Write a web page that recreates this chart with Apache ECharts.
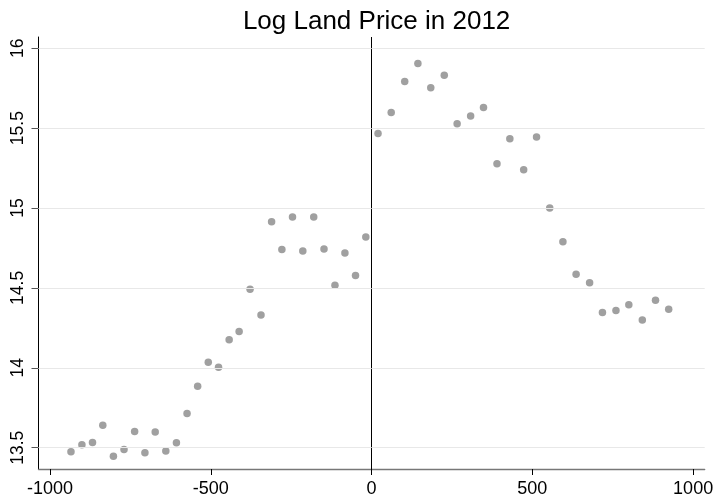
<!DOCTYPE html>
<html>
<head>
<meta charset="utf-8">
<script src="https://cdn.jsdelivr.net/npm/echarts@6/dist/echarts.min.js"></script>
<style>
  html, body { margin: 0; padding: 0; background: #fff; }
  #main { width: 717px; height: 499px; }
</style>
</head>
<body>
<div id="main"></div>
<script>
// distance to the border (bins), and mean log land price in each bin
const distLeft = [-935, -901, -868, -836, -803, -770, -737, -705, -673, -640, -607, -574, -541, -508, -476,
  -443, -412, -378, -344, -311, -279, -246, -214, -180, -148, -114, -83, -50, -18];
const priceLeft = [13.475, 13.519, 13.533, 13.641, 13.446, 13.489, 13.602, 13.469, 13.598, 13.479, 13.531, 13.714,
  13.885, 14.035, 14.004, 14.175, 14.227, 14.491, 14.331, 14.914, 14.741, 14.944, 14.731, 14.944, 14.744,
  14.516, 14.719, 14.577, 14.819];
const distRight = [20, 61, 103, 144, 184, 226, 266, 308, 348, 390, 430, 473, 513, 554, 595, 636, 678, 718,
  760, 800, 842, 883, 924];
const priceRight = [15.466, 15.598, 15.791, 15.904, 15.752, 15.831, 15.527, 15.575, 15.629, 15.277, 15.433,
  15.239, 15.444, 15.0, 14.789, 14.585, 14.533, 14.346, 14.358, 14.394, 14.30, 14.4225, 14.366];
const cutoff = 0;
const xTicks = [-1000, -500, 0, 500, 1000];
const yTicks = [13.5, 14, 14.5, 15, 15.5, 16];

const font = "'Liberation Sans', Arial, sans-serif";
const pts = distLeft.map((d, i) => [d, priceLeft[i]])
  .concat(distRight.map((d, i) => [d, priceRight[i]]));

const chart = echarts.init(document.getElementById('main'));
chart.setOption({
  animation: false,
  title: {
    text: 'Log Land Price in 2012',
    left: 371.6,
    textAlign: 'center',
    top: 4,
    textStyle: { fontFamily: font, fontSize: 26, fontWeight: 'normal', color: '#000' }
  },
  grid: { left: 38.5, right: 12.3, top: 37, bottom: 30 },
  xAxis: {
    type: 'value',
    min: -1036, max: 1036,
    axisLine: { show: true, onZero: false, lineStyle: { color: '#777', width: 1.3 } },
    axisTick: {
      show: true, length: 6, lineStyle: { color: '#000' },
      customValues: xTicks
    },
    axisLabel: {
      margin: 11, fontFamily: font, fontSize: 18, color: '#000',
      customValues: xTicks,
      formatter: v => String(v)
    },
    splitLine: { show: false }
  },
  yAxis: {
    type: 'value',
    min: 13.367, max: 16.07,
    axisLine: { show: true, onZero: false, lineStyle: { color: '#000', width: 1 } },
    axisTick: {
      show: true, length: 7, lineStyle: { color: '#555' },
      customValues: yTicks
    },
    axisLabel: {
      rotate: 90, margin: 11, fontFamily: font, fontSize: 17.5, color: '#000',
      customValues: yTicks,
      formatter: v => String(v)
    },
    splitLine: { show: false }
  },
  series: [{
    type: 'scatter',
    data: pts,
    symbolSize: 7.5,
    itemStyle: { color: '#a0a0a0', opacity: 1 },
    markLine: {
      silent: true,
      symbol: 'none',
      label: { show: false },
      lineStyle: { color: '#000', width: 1, type: 'solid' },
      data: [{ xAxis: cutoff }]
    }
  }, {
    // horizontal reference lines at the y ticks
    type: 'scatter',
    data: [],
    markLine: {
      silent: true,
      symbol: 'none',
      label: { show: false },
      lineStyle: { color: '#e8e8e8', width: 1, type: 'solid' },
      data: yTicks.map(v => ({ yAxis: v }))
    },
    z: 1
  }]
});
</script>
</body>
</html>
